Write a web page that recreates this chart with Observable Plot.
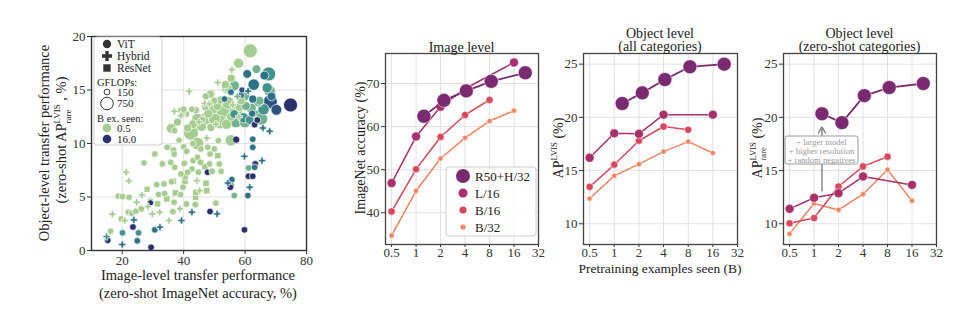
<!DOCTYPE html>
<html><head><meta charset="utf-8">
<script src="https://cdn.jsdelivr.net/npm/d3@7"></script>
<script src="https://cdn.jsdelivr.net/npm/@observablehq/plot@0.6"></script>
<style>
body{margin:0;background:#fff}
#wrap{position:relative;width:973px;height:326px;font-family:"Liberation Serif","DejaVu Serif",serif;}
</style>
</head><body><div id="wrap"></div>
<script>
// ---------- Scatter data: [ImageNet acc, AP rare, B examples seen, GFLOPs]
const vitPoints = [
[15.3,0.95,16,170],[16.2,1.8,0.5,170],[20.1,1.65,2,170],[23.5,2.2,16,170],[24.9,0.9,4,170],[25.3,1.65,2,170],
[29.4,0.3,16,170],[30.6,1.93,4,170],[19.7,2.95,0.5,170],[22.0,3.58,0.5,170],[23.1,3.48,0.5,170],[24.4,3.67,0.5,170],
[26.2,3.89,0.5,170],[18.7,5.07,0.5,170],[20.1,5.04,0.5,170],[22.2,4.98,0.5,170],[29.2,4.45,16,150],[29.2,4.6,0.5,170],
[31.8,5.23,0.5,170],[33.8,5.32,0.5,170],[36.5,3.64,0.5,170],[36.9,4.51,0.5,170],[40.9,4.35,0.5,170],[39.8,5.91,0.5,170],
[39.0,5.23,0.5,170],[43.8,4.29,0.5,170],[48.6,3.64,16,170],[50.5,4.42,0.5,170],[47.8,7.31,16,170],
[27.1,8.18,0.5,170],[30.6,9.02,0.5,170],[33.1,8.09,0.5,170],[35.0,9.7,0.5,170],[36.7,9.39,0.5,170],[36.9,9.0,0.5,170],
[40.0,9.7,0.5,170],[41.0,9.27,0.5,170],[40.2,8.15,0.5,170],[37.1,7.78,0.5,170],[35.8,8.24,0.5,170],[31.2,6.16,0.5,170],
[33.6,6.22,0.5,170],[36.1,6.43,0.5,170],[43.1,8.4,0.5,170],[42.7,7.62,0.5,170],[44.5,8.7,0.5,170],[45.5,8.24,0.5,170],
[48.4,8.09,0.5,170],[49.3,7.4,0.5,170],[51.6,8.09,0.5,170],[52.2,7.4,0.5,170],[44.8,7.31,0.5,170],[41.3,7.31,0.5,170],
[39.1,7.15,0.5,170],[48.6,9.02,0.5,170],[50.0,9.49,0.5,170],[51.3,10.26,0.5,170],[47.8,9.64,0.5,170],[45.6,9.49,0.5,170],
[43.0,10.0,0.5,170],[38.5,10.3,0.5,170],[34.6,9.64,0.5,170],[39.0,13.1,0.5,170],[40.9,12.75,0.5,170],
[36.0,11.4,0.5,380],[37.0,11.2,0.5,170],[42.4,11.0,0.5,850],[44.5,10.0,0.5,600],[45.8,11.6,0.5,400],[39.6,12.75,0.5,170],
[42.7,13.2,0.5,170],[40.0,13.2,0.5,170],[41.3,11.45,0.5,250],[48.9,11.5,0.5,250],[50.0,12.3,0.5,550],[53.0,13.1,0.5,850],
[48.9,14.7,0.5,250],[52.0,14.06,0.5,250],[54.4,15.2,0.5,250],[56.5,15.4,1,400],[55.4,12.5,0.5,300],[56.5,12.75,2,300],
[58.2,13.4,0.5,300],[60.3,13.5,1,300],[58.7,14.0,0.5,250],[62.0,13.3,1,400],[64.7,14.0,1,300],[65.3,12.3,1,600],
[62.5,14.15,4,250],[58.7,14.5,4,170],[55.4,14.8,4,170],[53.3,14.15,4,170],[50.0,14.0,0.5,200],[47.2,14.4,0.5,200],
[47.0,13.4,0.5,200],[44.0,13.1,0.5,200],[55.4,10.3,0.5,500],[57.1,10.36,16,200],[46.0,12.2,0.5,200],[48.0,12.8,0.5,300],
[51.0,13.5,0.5,300],[54.0,11.8,0.5,400],[57.0,12.0,1,500],[59.5,12.4,2,400],[61.5,12.2,2,300],
[47.0,12.3,0.5,600],[52.0,12.0,0.5,700],[57.0,13.0,0.5,700],[59.5,14.5,1,600],[49.5,13.3,0.5,500],[44.5,12.3,0.5,500],
[54.5,13.8,0.5,600],[60.0,12.0,1,500],[63.5,12.5,1,700],[66.0,13.2,2,500],[38.0,12.0,0.5,250],[43.0,11.8,0.5,300],
[61.7,18.66,0.5,750],[57.9,17.5,0.5,400],[60.7,16.5,4,300],[63.7,16.95,1,300],[67.7,16.5,2,750],[66.3,16.35,4,300],
[62.8,15.5,4,500],[67.2,15.2,2,400],[59.0,15.0,8,150],[55.5,16.1,0.5,250],[53.6,15.5,0.5,250],[54.2,15.2,0.5,500],
[48.7,14.6,0.5,250],[68.2,13.9,8,750],[68.6,14.4,4,300],[70.2,13.15,8,450],[74.8,13.6,16,750],[64.4,13.9,1,400],
[62.3,12.8,4,200],[63.9,12.2,16,170],[63.1,11.76,16,170],[68.0,14.9,1,500],
[55.4,6.07,4,170],[55.7,6.63,4,170],[55.2,5.91,16,170],[56.5,5.13,1,170],[61.1,7.71,1,170],[60.9,5.13,4,170],
[59.8,1.93,16,170],[61.1,6.94,16,170],[62.5,6.94,16,170],[63.3,8.09,16,170],[63.1,7.78,4,170],[62.5,9.64,4,170],
[62.5,10.4,4,170],[64.0,12.19,16,170]
];
const hybridPoints = [
[14.9,1.3,2,170],[20.0,0.56,4,170],[32.3,2.18,4,170],[20.8,2.8,0.5,170],[23.8,2.86,4,170],[16.8,3.4,0.5,170],
[24.7,4.51,0.5,170],[26.4,5.19,0.5,170],[28.4,4.1,0.5,170],[29.8,3.42,0.5,170],[32.2,3.58,0.5,170],[35.2,2.8,0.5,170],
[39.3,2.8,4,170],[38.8,3.89,0.5,170],[42.7,3.58,4,170],[44.3,6.53,0.5,170],[45.2,5.6,0.5,170],[50.9,3.42,4,170],
[21.3,7.3,0.5,170],[22.2,6.5,0.5,170],[54.4,6.31,4,170],[59.8,8.8,4,170],[61.5,5.91,4,170],[65.5,8.4,4,170],
[65.8,11.45,4,170],[68.0,11.14,4,170],[41.8,14.87,0.5,170],[46.9,13.75,0.5,170],[48.4,13.7,0.5,170],[51.1,15.7,0.5,170],
[39.1,12.6,0.5,170],[55.7,16.9,0.5,170],[58.0,12.5,0.5,170],[45.0,12.0,0.5,170],[50.5,11.8,0.5,170],[57.5,14.4,1,170],
[61.0,14.9,4,170],[56.0,13.6,0.5,170],[37.0,13.0,0.5,170],[47.5,10.5,0.5,170]
];
const resnetPoints = [
[28.1,5.72,0.5,170],[36.6,6.47,0.5,200],[31.5,4.36,0.5,200],[34.5,4.82,0.5,200],[37.3,5.38,0.5,200],[40.4,6.47,0.5,200],
[40.5,6.9,0.5,200],[43.9,4.98,0.5,200],[44.0,5.44,0.5,200],[47.5,5.6,0.5,200],[47.3,6.28,0.5,200],[46.9,7.84,0.5,200],
[51.1,8.86,0.5,200]
];
const scatterXTicks = [20, 40, 60, 80];
const scatterYTicks = [0, 5, 10, 15, 20];

// ---------- Scaling curves
const seriesNames = ["R50+H/32", "L/16", "B/16", "B/32"];
const steps = [0.5, 1, 2, 4, 8, 16];
const r50Steps = [1.25, 2.2, 4.15, 8.4, 22];
const stepTicks = [0.5, 1, 2, 4, 8, 16, 32];

const imgR50 = [62.4, 66.1, 68.3, 70.5, 72.5];
const imgL16 = [46.9, 57.7, 64.6, 68.8, null, 74.9];
const imgB16 = [40.3, 50.1, 57.6, 62.7, 66.2, null];
const imgB32 = [34.7, 45.1, 52.6, 57.4, 61.3, 63.7];

const objR50 = [21.3, 22.3, 23.55, 24.75, 25.0];
const objL16 = [16.2, 18.5, 18.45, 20.25, null, 20.25];
const objB16 = [13.47, 15.55, 17.8, 19.14, 18.83, null];
const objB32 = [12.37, 14.5, 15.6, 16.78, 17.72, 16.65];

const rareR50 = [20.34, 19.5, 22.04, 22.8, 23.18];
const rareL16 = [11.4, 12.44, 12.87, 14.44, null, 13.65];
const rareB16 = [10.04, 10.54, 13.5, 15.39, 16.3, null];
const rareB32 = [9.05, 11.9, 11.3, 12.78, 15.08, 12.15];

const imgTicks = [40, 50, 60, 70];
const apTicks = [10, 15, 20, 25];
const annotArrow = [{x: 1.25, y1: 13.1, y2: 19.1}];

// ---------- styles
const FONT = '"Liberation Serif","DejaVu Serif",serif';
const seriesColor = {"R50+H/32": "#7a2a70", "L/16": "#a9306a", "B/16": "#d9475a", "B/32": "#f0845f"};
const seriesR = {"R50+H/32": 7, "L/16": 4.5, "B/16": 3.6, "B/32": 2.6};
const crest = d3.interpolateRgbBasis(["#a5cd90", "#72b38e", "#3a948c", "#2a7289", "#2b5283", "#2a2f6e"]);
const gridStyle = {stroke: "#e2e2e2", strokeOpacity: 1, strokeWidth: 1};

const wrap = document.getElementById("wrap");
const baseStyle = {position: "absolute", left: "0px", top: "0px", background: "transparent",
  fontFamily: FONT, fontSize: "13px", color: "#333", overflow: "visible"};
function addPlot(opts) {
  const p = Plot.plot({width: 973, height: 326, style: baseStyle, ...opts});
  wrap.appendChild(p);
  return p;
}

// ---------- Scatter
const scatter = [
  ...vitPoints.map(d => ({arch: "ViT", x: d[0], y: d[1], b: d[2], g: d[3]})),
  ...hybridPoints.map(d => ({arch: "Hybrid", x: d[0], y: d[1], b: d[2], g: d[3] * 0.8})),
  ...resnetPoints.map(d => ({arch: "ResNet", x: d[0], y: d[1], b: d[2], g: d[3]}))
];
addPlot({
  marginLeft: 91, marginRight: 667, marginTop: 36, marginBottom: 76,
  x: {domain: [10, 80], ticks: scatterXTicks, label: null, tickSize: 4, tickPadding: 1},
  y: {domain: [0, 20], ticks: scatterYTicks, label: null, tickSize: 4, tickPadding: 2},
  r: {type: "sqrt", domain: [0, 750], range: [0, 7]},
  symbol: {domain: ["ViT", "Hybrid", "ResNet"], range: ["circle", "cross", "square"]},
  color: {type: "log", domain: [0.5, 16], interpolate: crest},
  marks: [
    Plot.gridX(scatterXTicks, gridStyle),
    Plot.gridY(scatterYTicks, gridStyle),
    Plot.dot(scatter, {x: "x", y: "y", r: "g", fill: "b", symbol: "arch", stroke: "white", strokeWidth: 0.7}),
    Plot.frame({stroke: "#333", strokeWidth: 1.4})
  ]
});

// ---------- line panels
function rowsFor(vals, xs, name) {
  return vals.map((v, i) => ({s: name, x: xs[i], y: v})).filter(d => d.y != null);
}
function panel(left, right, yDomain, yTicks, seriesVals, extra) {
  const data = seriesNames.map((n, i) => rowsFor(seriesVals[i], i === 0 ? r50Steps : steps, n));
  const marks = [Plot.gridX(stepTicks, gridStyle), Plot.gridY(yTicks, gridStyle), ...(extra || [])];
  for (let i = seriesNames.length - 1; i >= 0; i--) {
    const n = seriesNames[i];
    marks.push(Plot.line(data[i], {x: "x", y: "y", stroke: seriesColor[n], strokeWidth: i === 0 ? 1.8 : 1.5}));
    marks.push(Plot.dot(data[i], {x: "x", y: "y", r: seriesR[n], fill: seriesColor[n], stroke: "white", strokeWidth: 0.5}));
  }
  marks.push(Plot.frame({stroke: "#444", strokeWidth: 1.3}));
  return addPlot({
    marginLeft: left, marginRight: 973 - right, marginTop: 53, marginBottom: 82,
    x: {type: "log", base: 2, domain: [0.421, 32], ticks: stepTicks, tickFormat: d => String(d), label: null, tickSize: 3, tickPadding: 0},
    y: {domain: yDomain, ticks: yTicks, label: null, tickSize: 4, tickPadding: 2},
    marks
  });
}
panel(385, 538, [32.63, 76.98], imgTicks, [imgR50, imgL16, imgB16, imgB32]);
panel(583, 737, [8.05, 26.0], apTicks, [objR50, objL16, objB16, objB32]);
panel(783, 936, [8.05, 26.0], apTicks, [rareR50, rareL16, rareB16, rareB32],
  [Plot.arrow(annotArrow, {x1: "x", x2: "x", y1: "y1", y2: "y2", stroke: "#8a8a8a", strokeWidth: 1.5, headLength: 7})]);

// ---------- overlay: labels, titles, legends
const ov = d3.select(wrap).append("svg")
  .attr("width", 973).attr("height", 326)
  .style("position", "absolute").style("left", "0px").style("top", "0px")
  .attr("font-family", FONT).attr("fill", "#222");

function measure(str, size) {
  const t = ov.append("text").attr("font-size", size).text(str);
  const w = t.node().getComputedTextLength();
  t.remove();
  return w;
}
function txt(x, y, s, size, opts = {}) {
  const t = ov.append("text").attr("x", x).attr("y", y).attr("font-size", size)
    .attr("text-anchor", opts.anchor || "middle").attr("dy", "0.35em").text(s);
  if (opts.fill) t.attr("fill", opts.fill);
  return t;
}
function vtxt(x, y, s, size) {
  return ov.append("text").attr("transform", `translate(${x},${y}) rotate(-90)`)
    .attr("font-size", size).attr("text-anchor", "middle").attr("dy", "0.35em").text(s);
}
function apLabel(x, y, pre, post, withRare, size) {
  const t = ov.append("text").attr("transform", `translate(${x},${y}) rotate(-90)`)
    .attr("font-size", size).attr("text-anchor", "middle").attr("dy", "0.35em");
  const ss = size * 0.62;
  t.append("tspan").text(pre + "AP");
  t.append("tspan").attr("font-size", ss).attr("dy", -size * 0.42).text("LVIS");
  if (withRare) {
    const w = measure("LVIS", ss), wr = measure("rare", ss);
    t.append("tspan").attr("font-size", ss).attr("dx", -w).attr("dy", size * 0.74).text("rare");
    t.append("tspan").attr("dx", w - wr).attr("dy", -size * 0.32).text(post);
  } else {
    t.append("tspan").attr("dy", size * 0.42).text(post);
  }
}

// scatter labels
vtxt(44, 143, "Object-level transfer performance", 14.5);
apLabel(61, 140, "(zero-shot ", " , %)", true, 14.5);
txt(198, 275, "Image-level transfer performance", 14.5);
txt(198, 293, "(zero-shot ImageNet accuracy, %)", 14.5);

// panel labels / titles
txt(461.5, 47, "Image level", 14);
txt(660, 33, "Object level", 14);
txt(660, 46.5, "(all categories)", 14);
txt(859.5, 33, "Object level", 14);
txt(859.5, 46.5, "(zero-shot categories)", 14);
vtxt(360, 148, "ImageNet accuracy (%)", 14);
apLabel(558, 148, "", " (%)", false, 14);
apLabel(757, 148, "", " (%)", true, 14);
txt(660, 268, "Pretraining examples seen (B)", 13.5);

// scatter legend
ov.append("rect").attr("x", 94).attr("y", 37).attr("width", 68).attr("height", 108).attr("rx", 3)
  .attr("fill", "white").attr("fill-opacity", 0.85).attr("stroke", "#cfcfcf");
const symSize = 55;
[["ViT", d3.symbolCircle, 44], ["Hybrid", d3.symbolCross, 56], ["ResNet", d3.symbolSquare, 68]].forEach(([lab, sym, y]) => {
  ov.append("path").attr("d", d3.symbol(sym, symSize)()).attr("transform", `translate(107,${y})`).attr("fill", "#333");
  txt(117, y, lab, 11.5, {anchor: "start"});
});
txt(97, 82, "GFLOPs:", 10.5, {anchor: "start"});
ov.append("circle").attr("cx", 107).attr("cy", 92).attr("r", 2.9).attr("fill", "none").attr("stroke", "#333").attr("stroke-width", 1);
txt(117, 92, "150", 11, {anchor: "start"});
ov.append("circle").attr("cx", 107).attr("cy", 103.5).attr("r", 6.3).attr("fill", "none").attr("stroke", "#333").attr("stroke-width", 1);
txt(117, 103.5, "750", 11, {anchor: "start"});
txt(97, 118, "B ex. seen:", 10.5, {anchor: "start"});
ov.append("circle").attr("cx", 107).attr("cy", 128).attr("r", 4.3).attr("fill", crest(0));
txt(117, 128, "0.5", 11, {anchor: "start"});
ov.append("circle").attr("cx", 107).attr("cy", 139).attr("r", 4.3).attr("fill", crest(1));
txt(117, 139.5, "16.0", 11, {anchor: "start"});

// line legend
ov.append("rect").attr("x", 446).attr("y", 167).attr("width", 90).attr("height", 69).attr("rx", 3)
  .attr("fill", "white").attr("fill-opacity", 0.85).attr("stroke", "#cfcfcf");
seriesNames.forEach((n, i) => {
  const y = [176, 193, 210, 227][i];
  ov.append("circle").attr("cx", 463).attr("cy", y).attr("r", seriesR[n]).attr("fill", seriesColor[n]);
  txt(475, y, n, 13, {anchor: "start"});
});

// annotation box
ov.append("rect").attr("x", 785).attr("y", 136).attr("width", 73).attr("height", 28).attr("rx", 2)
  .attr("fill", "white").attr("stroke", "#9a9a9a").attr("stroke-width", 1);
["+ larger model", "+ higher resolution", "+ random negatives"].forEach((s, i) => {
  txt(821.5, 141.5 + i * 9.2, s, 8.6, {fill: "#9a9a9a"});
});
</script>
</body></html>
